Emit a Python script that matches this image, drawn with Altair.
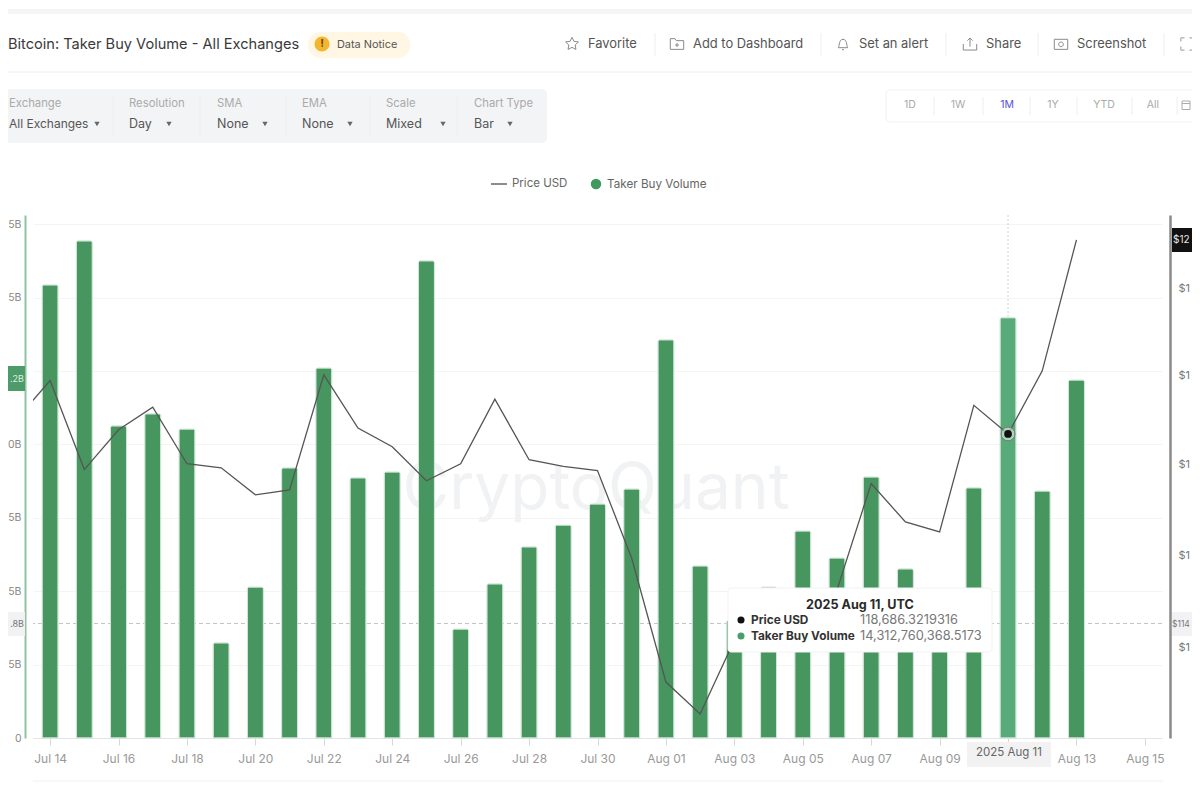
import altair as alt
import pandas as pd

# ---------- chart values ----------
BAR_DATES = ["2025-07-14","2025-07-15","2025-07-16","2025-07-17","2025-07-18","2025-07-19","2025-07-20",
             "2025-07-21","2025-07-22","2025-07-23","2025-07-24","2025-07-25","2025-07-26","2025-07-27",
             "2025-07-28","2025-07-29","2025-07-30","2025-07-31","2025-08-01","2025-08-02","2025-08-03",
             "2025-08-04","2025-08-05","2025-08-06","2025-08-07","2025-08-08","2025-08-09","2025-08-10",
             "2025-08-11","2025-08-12","2025-08-13"]
VOLUME_B = [15.43,16.93,10.63,11.04,10.52,3.24,5.14,9.20,12.60,8.86,9.06,16.25,3.71,5.25,6.51,7.25,7.97,8.48,
            13.56,5.86,4.00,5.14,7.05,6.13,8.89,5.76,4.30,8.52,14.3128,8.41,12.19]
PRICE_DATES = ["2025-07-13"] + BAR_DATES
PRICE_USD = [119000,119890,117890,118780,119290,118020,117930,117330,117440,120020,118820,118400,117640,118020,
             119470,118110,117960,117870,115930,113250,112570,114150,114930,114590,115240,117580,116730,116510,
             119330,118686.32,120110,123120]
HOVER_DAY = "2025-08-11"
CROSS_VOLUME_B = [3.9]
VOL_TICKS_B = [0, 2.5, 5, 7.5, 10, 12.5, 15, 17.5]
PRICE_TICKS = [114000, 116000, 118000, 120000, 122000]
XTICK_DAYS = [(7,14),(7,16),(7,18),(7,20),(7,22),(7,24),(7,26),(7,28),(7,30),
              (8,1),(8,3),(8,5),(8,7),(8,9),(8,11),(8,13),(8,15)]

# ---------- styling ----------
FONT = "Inter"
GREEN = "#47955f"
GREEN_HOVER = "#57ab78"
PLOT_LEFT, PLOT_TOP, PLOT_W, PLOT_H = 33, 215, 1129, 523

bars_df = pd.DataFrame({"date": BAR_DATES, "day": BAR_DATES, "volume": [v * 1e9 for v in VOLUME_B]})
price_df = pd.DataFrame({"date": PRICE_DATES, "day": PRICE_DATES, "price": PRICE_USD})
one = pd.DataFrame({"a": [0]})

x_scale = alt.Scale(type="utc", padding=0,
                    domain=[alt.DateTime(year=2025, month=7, date=13, hours=12, utc=True),
                            alt.DateTime(year=2025, month=8, date=15, hours=12, utc=True)])
vol_scale = alt.Scale(domain=[0, 17.81e9], nice=False)
price_scale = alt.Scale(type="log", domain=[112060, 123700], nice=False, zero=False)
X_AXIS = alt.Axis(values=[alt.DateTime(year=2025, month=m, date=d, utc=True) for m, d in XTICK_DAYS],
                  labelExpr="utcFormat(datum.value, '%b %d') === 'Aug 11' ? '' : utcFormat(datum.value, '%b %d')",
                  grid=False, domainColor="#e4e4e8", tickColor="#d8d8d8", tickSize=7,
                  labelColor="#999", labelFont=FONT, labelFontSize=12, labelPadding=8,
                  labelOverlap=False, labelFlush=False, title=None)
X_FIELD = alt.X("date:T", scale=x_scale, axis=X_AXIS, title=None)


def px(v):
    return alt.value(v - PLOT_LEFT)


def py(v):
    return alt.value(v - PLOT_TOP)


def text(s, x, y, size=11, color="#777", align="left", weight=400):
    return alt.Chart(one).mark_text(font=FONT, fontSize=size, color=color, align=align,
                                    baseline="middle", fontWeight=weight).encode(
        x=px(x), y=py(y), text=alt.value(s))


def box(x0, x1, y0, y1, fill, stroke=None, r=0):
    kw = {"fill": fill, "cornerRadius": r}
    if stroke:
        kw["stroke"] = stroke
        kw["strokeWidth"] = 1
    return alt.Chart(one).mark_rect(**kw).encode(x=px(x0), x2=px(x1), y=py(y0), y2=py(y1))


def hline(x0, x1, y, color="#eeeeee", w=1):
    return alt.Chart(one).mark_rule(color=color, strokeWidth=w).encode(x=px(x0), x2=px(x1), y=py(y))


def vline(x, y0, y1, color="#eeeeee", w=1):
    return alt.Chart(one).mark_rule(color=color, strokeWidth=w).encode(x=px(x), y=py(y0), y2=py(y1))


def icon(x, y, shape, size=180, color="#8a8a8a", filled=False, w=1):
    kw = dict(shape=shape, size=size, filled=filled, opacity=1)
    if filled:
        kw["fill"] = color
        kw["stroke"] = color
        kw["strokeWidth"] = 0
    else:
        kw["stroke"] = color
        kw["strokeWidth"] = w
    return alt.Chart(one).mark_point(**kw).encode(x=px(x), y=py(y))


STAR = "M0,-1 L0.29,-0.4 L0.95,-0.31 L0.47,0.15 L0.59,0.81 L0,0.5 L-0.59,0.81 L-0.47,0.15 L-0.95,-0.31 L-0.29,-0.4 Z"
FOLDER = "M-1,-0.8 L-0.3,-0.8 L-0.1,-0.5 L1,-0.5 L1,0.8 L-1,0.8 Z M-0.3,0.15 L0.3,0.15 M0,-0.15 L0,0.45"
BELL = "M-0.7,0.55 C-0.5,0.2 -0.6,-0.7 0,-0.7 C0.6,-0.7 0.5,0.2 0.7,0.55 Z M-0.15,0.85 L0.15,0.85"
SHARE = "M-1,0 L-1,0.9 L1,0.9 L1,0 M0,0.4 L0,-0.9 M-0.4,-0.5 L0,-0.9 L0.4,-0.5"
CAMERA = "M-1,-0.7 L1,-0.7 L1,0.8 L-1,0.8 Z M0.35,0.05 A0.35,0.35 0 1,1 -0.35,0.05 A0.35,0.35 0 1,1 0.35,0.05"
FULL = "M-1,-0.4 L-1,-1 L-0.4,-1 M0.4,-1 L1,-1 L1,-0.4 M1,0.4 L1,1 L0.4,1 M-0.4,1 L-1,1 L-1,0.4"
CAL = "M-0.8,-0.8 L0.8,-0.8 L0.8,0.9 L-0.8,0.9 Z M-0.8,-0.3 L0.8,-0.3"

layers = []

# page chrome -----------------------------------------------------------
layers += [box(0, 1200, 9, 14, "#f5f5f5"), hline(0, 1200, 72)]
layers += [text("Bitcoin: Taker Buy Volume - All Exchanges", 8, 45, 14.6, "#3a3a3a")]
layers += [box(308, 410, 32, 58, "#fff6e3", r=12),
           alt.Chart(one).mark_point(filled=True, color="#f4b62f", size=230, opacity=1).encode(x=px(322), y=py(44)),
           text("!", 322, 44, 11, "#6b4a00", "center", 700),
           text("Data Notice", 337, 45, 10.9, "#555")]
for lbl, ix, tx, shp in [("Favorite", 572, 588, STAR), ("Add to Dashboard", 677, 693, FOLDER),
                         ("Set an alert", 843, 859, BELL), ("Share", 970, 986, SHARE),
                         ("Screenshot", 1061, 1077, CAMERA)]:
    layers += [icon(ix, 44, shp), text(lbl, tx, 44, 12.9, "#555")]
layers += [icon(1187, 44, FULL, 150, "#999")]
layers += [vline(sx, 33, 56) for sx in (655, 821, 946, 1038, 1164)]

layers += [box(0, 547, 89, 143, "#f3f4f6", r=5)]
layers += [vline(sx, 96, 136, "#eceef0") for sx in (113, 200, 286, 370, 457)]
layers += [text("Exchange", 9, 104, 11.3, "#aaa"), text("All Exchanges", 9, 124, 12, "#555")]
for head, val, tx, ax in [("Resolution", "Day", 129, 169), ("SMA", "None", 217, 265), ("EMA", "None", 302, 350),
                          ("Scale", "Mixed", 386, 443), ("Chart Type", "Bar", 474, 510)]:
    layers += [text(head, tx, 104, 11.3, "#aaa"), text(val, tx, 124, 12.5, "#555"),
               icon(ax, 124, "triangle-down", 28, "#666", True)]
layers += [icon(97, 124, "triangle-down", 28, "#666", True)]

layers += [box(886, 1210, 90, 122, "#ffffff", "#f1f1f1", 4)]
for lbl, tx, col in [("1D", 910, "#aaa"), ("1W", 958, "#aaa"), ("1M", 1007, "#5a4fe0"),
                     ("1Y", 1053, "#aaa"), ("YTD", 1104, "#aaa"), ("All", 1153, "#aaa")]:
    layers += [text(lbl, tx, 105, 10.5, col, "center")]
layers += [vline(sx, 97, 115) for sx in (934, 983, 1030, 1077, 1132, 1177)]
layers += [icon(1186, 105, CAL, 100, "#aaa")]

# legend
layers += [hline(491, 507, 184, "#666", 1.5), text("Price USD", 512, 184, 11.5, "#666"),
           alt.Chart(one).mark_point(filled=True, color="#3f9a5f", size=110, opacity=1).encode(x=px(596), y=py(184)),
           text("Taker Buy Volume", 607, 184, 11.7, "#666")]

# watermark, navigator
layers += [text("CryptoQuant", 596, 490, 64, "#f1f2f4", "center"), hline(33, 1163, 781, "#f0f0f0")]

# crosshair
layers += [
    alt.Chart(bars_df[bars_df.day == HOVER_DAY]).mark_rule(color="#d0d0d0", strokeDash=[2, 2]).encode(x=X_FIELD),
    alt.Chart(pd.DataFrame({"v": [v * 1e9 for v in CROSS_VOLUME_B]})).mark_rule(
        color="#c4c4c4", strokeDash=[4, 3]).encode(y=alt.Y("v:Q", scale=vol_scale, axis=None)),
]

# bars + left axis (the labels show what the reference's cropped edge shows)
layers += [alt.Chart(bars_df).mark_bar(size=16, cornerRadiusTopLeft=2, cornerRadiusTopRight=2,
                                       stroke="#cfe5d6", strokeWidth=1).encode(
    x=X_FIELD,
    y=alt.Y("volume:Q", scale=vol_scale, title=None,
            axis=alt.Axis(orient="left", offset=8, values=[v * 1e9 for v in VOL_TICKS_B],
                          labelExpr="datum.value == 0 ? '0' : datum.value == 12.5e9 ? '' : slice(datum.value / 1e9 + 'B', -2)",
                          grid=True, gridColor="#f4f4f5", ticks=False, domainColor="#8fc3a2", domainWidth=2,
                          labelColor="#888", labelFont=FONT, labelFontSize=10.5, labelPadding=4)),
    color=alt.condition(f"datum.day === '{HOVER_DAY}'", alt.value(GREEN_HOVER), alt.value(GREEN)),
)]

# price line + right axis
layers += [alt.Chart(price_df).mark_line(color="#555555", strokeWidth=1.3, clip=True).encode(
    x=X_FIELD,
    y=alt.Y("price:Q", scale=price_scale, title=None,
            axis=alt.Axis(orient="right", offset=8, values=PRICE_TICKS, grid=False,
                          labelExpr="slice('$' + datum.value / 1000 + 'K', 0, 2)", ticks=False,
                          domainColor="#8a8a8a", domainWidth=2.5, labelColor="#777", labelFont=FONT,
                          labelFontSize=11, labelPadding=8)),
)]

# hovered point
hover_price = price_df[price_df.day == HOVER_DAY]
Y_PRICE = alt.Y("price:Q", scale=price_scale, axis=None)
layers += [
    alt.Chart(hover_price).mark_point(filled=True, fill="#ffffff", fillOpacity=0.5, stroke="#777", strokeWidth=1,
                                      size=190).encode(x=X_FIELD, y=Y_PRICE),
    alt.Chart(hover_price).mark_point(filled=True, color="#111111", size=60, opacity=1).encode(x=X_FIELD, y=Y_PRICE),
]

# tooltip and axis tags
layers += [box(728, 992, 588, 652, "#ffffff", "#f2f2f2", 3),
           text("2025 Aug 11, UTC", 860, 605, 12.6, "#2a2a2a", "center", 700),
           alt.Chart(one).mark_point(filled=True, color="#111", size=50, opacity=1).encode(x=px(741), y=py(620)),
           text("Price USD", 751, 620, 11.8, "#333", "left", 700),
           text("118,686.3219316", 860, 620, 12.8, "#777"),
           alt.Chart(one).mark_point(filled=True, color="#45a068", size=50, opacity=1).encode(x=px(741), y=py(636)),
           text("Taker Buy Volume", 751, 636, 11.8, "#333", "left", 700),
           text("14,312,760,368.5173", 860, 636, 12.8, "#777"),
           box(967, 1051, 742, 767, "#f2f2f3"),
           text("2025 Aug 11", 1009, 753, 11.5, "#666", "center"),
           box(0, 25, 366, 391, "#4c9b68"),
           text(".2B", 24, 379, 9, "#dcefe3", "right"),
           box(0, 25, 612, 636, "#f2f2f4"),
           text(".8B", 24, 624, 9, "#777", "right"),
           box(1172, 1215, 228, 252, "#111111"),
           text("$12", 1173, 240, 10, "#e8e8e8"),
           box(1172, 1215, 612, 636, "#f2f2f4"),
           text("$114", 1172, 624, 8.5, "#777")]

chart = alt.layer(*layers).resolve_scale(y="independent").properties(
    width=PLOT_W, height=PLOT_H,
    padding={"left": 25, "top": 207, "right": 30, "bottom": 54},
    autosize=alt.AutoSizeParams(type="none"),
).configure_view(stroke=None)

chart.save("out.html", embed_options={"renderer": "svg", "actions": False})
